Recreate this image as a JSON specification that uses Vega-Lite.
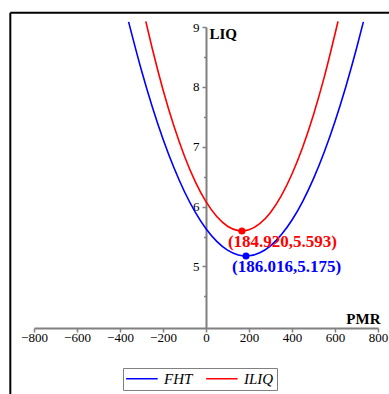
{
  "$schema": "https://vega.github.io/schema/vega-lite/v6.json",
  "width": 344,
  "height": 301,
  "autosize": {"type": "none"},
  "padding": {"left": 34, "top": 27, "right": 11, "bottom": 66},
  "background": "white",
  "config": {"view": {"stroke": null}, "font": "Liberation Serif"},
  "resolve": {"axis": {"y": "independent"}},
  "datasets": {
    "curves": [
      {"series": "FHT", "PMR": -360, "LIQ": 9.085},
      {"series": "FHT", "PMR": -300, "LIQ": 8.273},
      {"series": "FHT", "PMR": -250, "LIQ": 7.669},
      {"series": "FHT", "PMR": -200, "LIQ": 7.129},
      {"series": "FHT", "PMR": -150, "LIQ": 6.656},
      {"series": "FHT", "PMR": -100, "LIQ": 6.248},
      {"series": "FHT", "PMR": -50, "LIQ": 5.906},
      {"series": "FHT", "PMR": 0, "LIQ": 5.629},
      {"series": "FHT", "PMR": 50, "LIQ": 5.418},
      {"series": "FHT", "PMR": 100, "LIQ": 5.272},
      {"series": "FHT", "PMR": 150, "LIQ": 5.192},
      {"series": "FHT", "PMR": 186, "LIQ": 5.175},
      {"series": "FHT", "PMR": 200, "LIQ": 5.178},
      {"series": "FHT", "PMR": 250, "LIQ": 5.229},
      {"series": "FHT", "PMR": 300, "LIQ": 5.345},
      {"series": "FHT", "PMR": 350, "LIQ": 5.528},
      {"series": "FHT", "PMR": 400, "LIQ": 5.776},
      {"series": "FHT", "PMR": 450, "LIQ": 6.089},
      {"series": "FHT", "PMR": 500, "LIQ": 6.468},
      {"series": "FHT", "PMR": 550, "LIQ": 6.913},
      {"series": "FHT", "PMR": 600, "LIQ": 7.423},
      {"series": "FHT", "PMR": 650, "LIQ": 7.999},
      {"series": "FHT", "PMR": 700, "LIQ": 8.640},
      {"series": "FHT", "PMR": 732, "LIQ": 9.085},
      {"series": "ILIQ", "PMR": -280, "LIQ": 9.094},
      {"series": "ILIQ", "PMR": -250, "LIQ": 8.640},
      {"series": "ILIQ", "PMR": -200, "LIQ": 7.953},
      {"series": "ILIQ", "PMR": -150, "LIQ": 7.354},
      {"series": "ILIQ", "PMR": -100, "LIQ": 6.842},
      {"series": "ILIQ", "PMR": -50, "LIQ": 6.418},
      {"series": "ILIQ", "PMR": 0, "LIQ": 6.082},
      {"series": "ILIQ", "PMR": 50, "LIQ": 5.833},
      {"series": "ILIQ", "PMR": 100, "LIQ": 5.672},
      {"series": "ILIQ", "PMR": 150, "LIQ": 5.598},
      {"series": "ILIQ", "PMR": 167, "LIQ": 5.593},
      {"series": "ILIQ", "PMR": 200, "LIQ": 5.612},
      {"series": "ILIQ", "PMR": 250, "LIQ": 5.714},
      {"series": "ILIQ", "PMR": 300, "LIQ": 5.903},
      {"series": "ILIQ", "PMR": 350, "LIQ": 6.180},
      {"series": "ILIQ", "PMR": 400, "LIQ": 6.544},
      {"series": "ILIQ", "PMR": 450, "LIQ": 6.996},
      {"series": "ILIQ", "PMR": 500, "LIQ": 7.536},
      {"series": "ILIQ", "PMR": 550, "LIQ": 8.163},
      {"series": "ILIQ", "PMR": 614, "LIQ": 9.094}
    ],
    "minima": [
      {"series": "FHT", "PMR": 186, "LIQ": 5.175, "label": "(186.016,5.175)"},
      {"series": "ILIQ", "PMR": 167, "LIQ": 5.593, "label": "(184.920,5.593)"}
    ]
  },
  "layer": [
    {
      "data": {"name": "curves"},
      "mark": {"type": "line", "strokeWidth": 1.6, "interpolate": "monotone"},
      "encoding": {
        "x": {
          "field": "PMR", "type": "quantitative",
          "scale": {"domain": [-800, 800], "nice": false, "zero": false},
          "axis": {
            "values": [-800, -700, -600, -500, -400, -300, -200, -100, 0, 100, 200, 300, 400, 500, 600, 700, 800],
            "labelExpr": "datum.value % 200 === 0 ? datum.label : ''",
            "tickSize": {"condition": {"test": "datum.value % 200 !== 0", "value": 2.5}, "value": 4},
            "domainColor": "#808080", "domainWidth": 2,
            "tickColor": "#808080", "tickWidth": 1.5,
            "labelFont": "Liberation Serif", "labelFontSize": 13, "labelColor": "black",
            "labelPadding": -1, "labelOverlap": false, "labelFlush": false,
            "grid": false,
            "title": "PMR", "titleFont": "Liberation Serif", "titleFontWeight": "bold", "titleFontSize": 15,
            "titleColor": "black", "titleX": 346, "titleY": -4.5, "titleAlign": "right",
            "titleBaseline": "alphabetic", "titleAngle": 0
          }
        },
        "y": {
          "field": "LIQ", "type": "quantitative",
          "scale": {"domain": [3.972, 9], "nice": false, "zero": false},
          "axis": {
            "orient": "left",
            "values": [5, 6, 7, 8, 9],
            "tickSize": 4,
            "offset": -172,
            "domainColor": "#808080", "domainWidth": 2,
            "tickColor": "#808080", "tickWidth": 1.5,
            "labelFont": "Liberation Serif", "labelFontSize": 13, "labelColor": "black",
            "labelPadding": 3, "labelOverlap": false, "labelFlush": false,
            "grid": false,
            "title": "LIQ", "titleFont": "Liberation Serif", "titleFontWeight": "bold", "titleFontSize": 15,
            "titleColor": "black", "titleX": 3, "titleY": 11.5, "titleAlign": "left",
            "titleBaseline": "alphabetic", "titleAngle": 0
          }
        },
        "color": {
          "field": "series", "type": "nominal",
          "scale": {"domain": ["FHT", "ILIQ"], "range": ["#0000FF", "#FF0000"]},
          "legend": {
            "orient": "none", "legendX": 89, "legendY": 341, "direction": "horizontal", "title": null,
            "symbolType": "M-1.1,0H3.6", "symbolSize": 180, "symbolStrokeWidth": 1.5,
            "labelFont": "Liberation Serif", "labelFontStyle": "italic", "labelFontSize": 15,
            "labelColor": "black", "strokeColor": "#808080", "padding": 3,
            "columnPadding": 10, "labelOffset": 23
          }
        }
      }
    },
    {
      "data": {"name": "minima"},
      "mark": {"type": "circle", "size": 50, "opacity": 1},
      "encoding": {
        "x": {"field": "PMR", "type": "quantitative", "scale": {"domain": [-800, 800], "nice": false, "zero": false}},
        "y": {
          "field": "LIQ", "type": "quantitative", "scale": {"domain": [3.972, 9], "nice": false, "zero": false},
          "axis": {
            "orient": "left",
            "values": [4.5, 5.5, 6.5, 7.5, 8.5],
            "tickSize": 2.5, "offset": -172,
            "domain": false, "labels": false, "grid": false, "title": null,
            "tickColor": "#808080", "tickWidth": 1.5
          }
        },
        "color": {"field": "series", "type": "nominal", "scale": {"domain": ["FHT", "ILIQ"], "range": ["#0000FF", "#FF0000"]}}
      }
    },
    {
      "data": {"name": "minima"},
      "mark": {"type": "text", "align": "left", "baseline": "middle", "dx": -14, "dy": 11.5, "fontWeight": "bold", "fontSize": 17, "font": "Liberation Serif"},
      "encoding": {
        "x": {"field": "PMR", "type": "quantitative", "scale": {"domain": [-800, 800], "nice": false, "zero": false}},
        "y": {"field": "LIQ", "type": "quantitative", "scale": {"domain": [3.972, 9], "nice": false, "zero": false}, "axis": null},
        "text": {"field": "label"},
        "color": {"field": "series", "type": "nominal", "scale": {"domain": ["FHT", "ILIQ"], "range": ["#0000FF", "#FF0000"]}}
      }
    },
    {
      "data": {"values": [{}]},
      "mark": {"type": "rule", "color": "black", "strokeWidth": 2},
      "encoding": {
        "x": {"datum": -910.2, "type": "quantitative", "scale": {"domain": [-800, 800], "nice": false, "zero": false}},
        "x2": {"datum": 1000},
        "y": {"datum": 9.237, "type": "quantitative", "scale": {"domain": [3.972, 9], "nice": false, "zero": false}, "axis": null}
      }
    },
    {
      "data": {"values": [{}]},
      "mark": {"type": "rule", "color": "black", "strokeWidth": 2},
      "encoding": {
        "x": {"datum": -910.2, "type": "quantitative", "scale": {"domain": [-800, 800], "nice": false, "zero": false}},
        "y": {"datum": 9.237, "type": "quantitative", "scale": {"domain": [3.972, 9], "nice": false, "zero": false}, "axis": null},
        "y2": {"datum": 2}
      }
    }
  ]
}
